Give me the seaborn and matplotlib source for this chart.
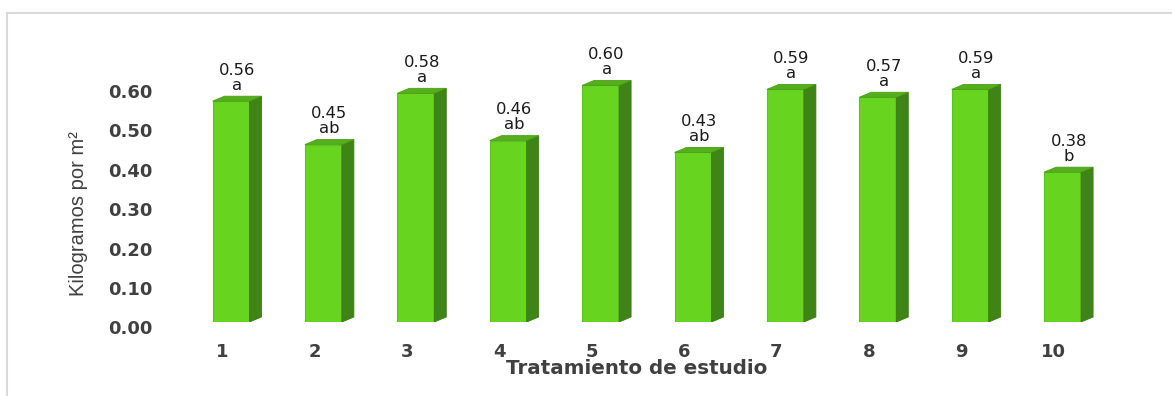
import matplotlib
matplotlib.use("Agg")
import matplotlib.pyplot as plt
import matplotlib.transforms as mtransforms
from matplotlib.patches import Polygon, Rectangle
import seaborn as sns
import pandas as pd

# ---- data ----
tratamientos = ["1", "2", "3", "4", "5", "6", "7", "8", "9", "10"]
kg_m2 = [0.56, 0.45, 0.58, 0.46, 0.60, 0.43, 0.59, 0.57, 0.59, 0.38]
letras = ["a", "ab", "a", "ab", "a", "ab", "a", "a", "a", "b"]
y_ticks = [0.0, 0.1, 0.2, 0.3, 0.4, 0.5, 0.6]

df = pd.DataFrame({"Tratamiento": tratamientos, "kg": kg_m2})

sns.set_theme(style="white")
W, H = 1172, 396
fig = plt.figure(figsize=(W / 100, H / 100), dpi=100)

ax_left, ax_bottom_px, ax_w, ax_h = 184.8, 322, 924, 276
ax = fig.add_axes([ax_left / W, (H - ax_bottom_px) / H, ax_w / W, ax_h / H])

front = "#67D41F"
side = "#3F8416"
top = "#55AE1C"
txt = "#404040"

sns.barplot(data=df, x="Tratamiento", y="kg", order=tratamientos, color=front,
            saturation=1, width=0.40, ax=ax, edgecolor="#5DC21B", linewidth=0.8)

ax.set_xlim(-0.5, len(tratamientos) - 0.5)
ax.set_ylim(0, 0.70)
sns.despine(ax=ax, left=True, bottom=True)

# depth of pseudo-3D bars (in pixels -> data units)
px_x = (len(tratamientos)) / ax_w
px_y = 0.70 / ax_h
dx, dy = 12 * px_x, 5 * px_y

for p, v, lt in zip(ax.patches, kg_m2, letras):
    x0 = p.get_x()
    w = p.get_width()
    x1 = x0 + w
    h = p.get_height()
    ax.add_patch(Polygon([(x1, 0), (x1 + dx, dy), (x1 + dx, h + dy), (x1, h)],
                         closed=True, facecolor=side, edgecolor="#3A7A14", lw=0.6, zorder=p.get_zorder()))
    ax.add_patch(Polygon([(x0, h), (x0 + dx, h + dy), (x1 + dx, h + dy), (x1, h)],
                         closed=True, facecolor=top, edgecolor="#4C9E18", lw=0.6, zorder=p.get_zorder()))
    ax.annotate(f"{v:.2f}\n{lt}", xy=(x0 + w / 2 + dx / 2, h), xytext=(0, 6),
                textcoords="offset points", ha="center", va="bottom",
                fontsize=11.8, color="#1a1a1a", family="DejaVu Sans", linespacing=1.0)

ax.set_yticks(y_ticks)
ax.set_yticklabels([f"{t:.2f}" for t in y_ticks])
ax.tick_params(axis="both", length=0)
ax.tick_params(axis="y", pad=23)
ax.tick_params(axis="x", pad=15)
for lab in ax.get_yticklabels():
    lab.set_fontfamily("DejaVu Sans")
    lab.set_fontweight("bold")
    lab.set_fontsize(13)
    lab.set_color(txt)
    lab.set_transform(lab.get_transform() + mtransforms.ScaledTranslation(0, -5.5 / 100, fig.dpi_scale_trans))
for lab in ax.get_xticklabels():
    lab.set_fontfamily("DejaVu Sans")
    lab.set_fontweight("bold")
    lab.set_fontsize(13)
    lab.set_color(txt)
    lab.set_transform(lab.get_transform() + mtransforms.ScaledTranslation(-9 / 100, 0, fig.dpi_scale_trans))

ax.set_xlabel("Tratamiento de estudio", fontsize=14.3, fontweight="bold",
              family="DejaVu Sans", color=txt)
ax.xaxis.set_label_coords((637 - ax_left) / ax_w, (ax_bottom_px - 369) / ax_h)
ax.xaxis.label.set_va("center")
ax.set_ylabel("Kilogramos por m²", fontsize=14.5, family="Liberation Sans", color=txt)
ax.yaxis.set_label_coords((78 - ax_left) / ax_w, (ax_bottom_px - 214) / ax_h)
ax.yaxis.label.set_va("center")

# outer light-gray frame (left and top edges visible)
fig.add_artist(Rectangle((7 / W, -0.05), 1.1, 1 - 13 / H + 0.05, transform=fig.transFigure,
                         facecolor="none", edgecolor="#D9D9D9", lw=1.5))

fig.savefig("out.png", dpi=100)
